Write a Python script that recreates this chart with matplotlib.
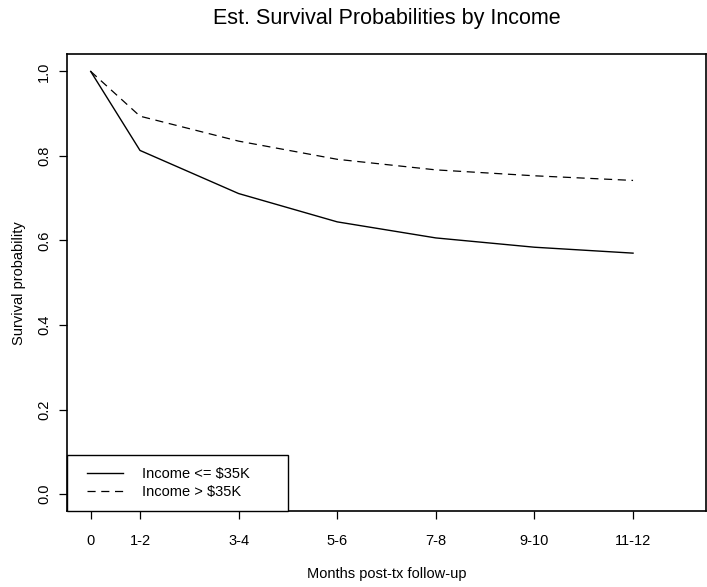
import numpy as np
import matplotlib.pyplot as plt
from matplotlib.legend_handler import HandlerLine2D

plt.rcParams['font.family'] = ['Liberation Sans', 'DejaVu Sans']

# Follow-up intervals and estimated survival by income group
months = [0, 1, 3, 5, 7, 9, 11]
month_labels = ["0", "1-2", "3-4", "5-6", "7-8", "9-10", "11-12"]
surv_low = [1.0, 0.813, 0.711, 0.644, 0.606, 0.584, 0.570]
surv_high = [1.0, 0.894, 0.835, 0.792, 0.767, 0.753, 0.742]

fs = 10.5

fig = plt.figure(figsize=(7.07, 5.87), dpi=100)
ax = fig.add_axes([0.0948, 0.1295, 0.9038, 0.7777])

ax.plot(months, surv_low, color="black", lw=1.0, label="Income <= $35K")
ax.plot(months, surv_high, color="black", lw=0.9, dashes=(6.5, 4.5),
        label="Income > $35K")

# R-style axis ranges (4% padding)
ax.set_xlim(-0.48, 12.48)
ax.set_ylim(-0.04, 1.04)
ax.set_xticks(months)
ax.set_xticklabels(month_labels)
ax.set_yticks(np.arange(0, 1.01, 0.2))
ax.set_yticklabels(["%.1f" % v for v in np.arange(0, 1.01, 0.2)],
                   rotation=90, va="center")
ax.tick_params(direction="out", length=5.5, width=0.9, labelsize=fs,
               colors="black")
ax.tick_params(axis="x", pad=11)
ax.tick_params(axis="y", pad=6)
for s in ax.spines.values():
    s.set_linewidth(1.2)

ax.set_xlabel("Months post-tx follow-up", fontsize=fs, labelpad=14)
ax.set_ylabel("Survival probability", fontsize=fs, labelpad=8)
ax.set_title("Est. Survival Probabilities by Income", fontsize=15.5, pad=22)

leg = ax.legend(loc="lower left", bbox_to_anchor=(0, 0, 0.346, 0.1),
                mode="expand", borderaxespad=0, fontsize=fs,
                handlelength=3.02, handletextpad=1.3, labelspacing=0.3,
                borderpad=0.8, fancybox=False, framealpha=1,
                edgecolor="black",
                handler_map={plt.Line2D: HandlerLine2D(xpad=0.55)})
leg.get_frame().set_linewidth(1.0)

fig.savefig("out.png", dpi=100)
